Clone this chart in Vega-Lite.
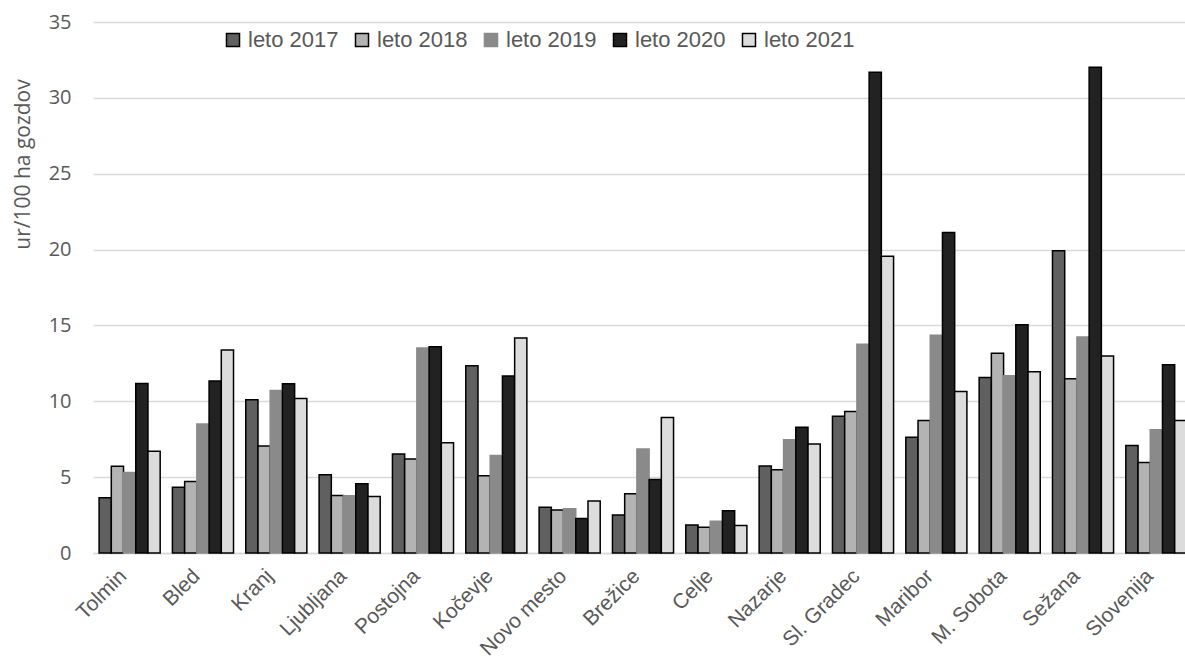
{
  "$schema": "https://vega.github.io/schema/vega-lite/v6.json",
  "width": 1100,
  "height": 531,
  "autosize": {"type": "none"},
  "padding": {"left": 93, "top": 22, "right": 0, "bottom": 113},
  "background": "white",
  "config": {"view": {"stroke": null}},
  "data": {"values": [
    {"region": "Tolmin", "year": "leto 2017", "v": 3.64},
    {"region": "Tolmin", "year": "leto 2018", "v": 5.71},
    {"region": "Tolmin", "year": "leto 2019", "v": 5.31},
    {"region": "Tolmin", "year": "leto 2020", "v": 11.18},
    {"region": "Tolmin", "year": "leto 2021", "v": 6.70},
    {"region": "Bled", "year": "leto 2017", "v": 4.34},
    {"region": "Bled", "year": "leto 2018", "v": 4.72},
    {"region": "Bled", "year": "leto 2019", "v": 8.51},
    {"region": "Bled", "year": "leto 2020", "v": 11.33},
    {"region": "Bled", "year": "leto 2021", "v": 13.38},
    {"region": "Kranj", "year": "leto 2017", "v": 10.10},
    {"region": "Kranj", "year": "leto 2018", "v": 7.06},
    {"region": "Kranj", "year": "leto 2019", "v": 10.71},
    {"region": "Kranj", "year": "leto 2020", "v": 11.16},
    {"region": "Kranj", "year": "leto 2021", "v": 10.19},
    {"region": "Ljubljana", "year": "leto 2017", "v": 5.16},
    {"region": "Ljubljana", "year": "leto 2018", "v": 3.79},
    {"region": "Ljubljana", "year": "leto 2019", "v": 3.77},
    {"region": "Ljubljana", "year": "leto 2020", "v": 4.56},
    {"region": "Ljubljana", "year": "leto 2021", "v": 3.72},
    {"region": "Postojna", "year": "leto 2017", "v": 6.53},
    {"region": "Postojna", "year": "leto 2018", "v": 6.20},
    {"region": "Postojna", "year": "leto 2019", "v": 13.51},
    {"region": "Postojna", "year": "leto 2020", "v": 13.60},
    {"region": "Postojna", "year": "leto 2021", "v": 7.27},
    {"region": "Kočevje", "year": "leto 2017", "v": 12.35},
    {"region": "Kočevje", "year": "leto 2018", "v": 5.09},
    {"region": "Kočevje", "year": "leto 2019", "v": 6.42},
    {"region": "Kočevje", "year": "leto 2020", "v": 11.66},
    {"region": "Kočevje", "year": "leto 2021", "v": 14.17},
    {"region": "Novo mesto", "year": "leto 2017", "v": 3.02},
    {"region": "Novo mesto", "year": "leto 2018", "v": 2.84},
    {"region": "Novo mesto", "year": "leto 2019", "v": 2.91},
    {"region": "Novo mesto", "year": "leto 2020", "v": 2.27},
    {"region": "Novo mesto", "year": "leto 2021", "v": 3.42},
    {"region": "Brežice", "year": "leto 2017", "v": 2.51},
    {"region": "Brežice", "year": "leto 2018", "v": 3.90},
    {"region": "Brežice", "year": "leto 2019", "v": 6.86},
    {"region": "Brežice", "year": "leto 2020", "v": 4.85},
    {"region": "Brežice", "year": "leto 2021", "v": 8.93},
    {"region": "Celje", "year": "leto 2017", "v": 1.85},
    {"region": "Celje", "year": "leto 2018", "v": 1.70},
    {"region": "Celje", "year": "leto 2019", "v": 2.10},
    {"region": "Celje", "year": "leto 2020", "v": 2.78},
    {"region": "Celje", "year": "leto 2021", "v": 1.81},
    {"region": "Nazarje", "year": "leto 2017", "v": 5.73},
    {"region": "Nazarje", "year": "leto 2018", "v": 5.49},
    {"region": "Nazarje", "year": "leto 2019", "v": 7.47},
    {"region": "Nazarje", "year": "leto 2020", "v": 8.29},
    {"region": "Nazarje", "year": "leto 2021", "v": 7.19},
    {"region": "Sl. Gradec", "year": "leto 2017", "v": 9.01},
    {"region": "Sl. Gradec", "year": "leto 2018", "v": 9.33},
    {"region": "Sl. Gradec", "year": "leto 2019", "v": 13.76},
    {"region": "Sl. Gradec", "year": "leto 2020", "v": 31.68},
    {"region": "Sl. Gradec", "year": "leto 2021", "v": 19.56},
    {"region": "Maribor", "year": "leto 2017", "v": 7.63},
    {"region": "Maribor", "year": "leto 2018", "v": 8.73},
    {"region": "Maribor", "year": "leto 2019", "v": 14.35},
    {"region": "Maribor", "year": "leto 2020", "v": 21.12},
    {"region": "Maribor", "year": "leto 2021", "v": 10.65},
    {"region": "M. Sobota", "year": "leto 2017", "v": 11.57},
    {"region": "M. Sobota", "year": "leto 2018", "v": 13.16},
    {"region": "M. Sobota", "year": "leto 2019", "v": 11.69},
    {"region": "M. Sobota", "year": "leto 2020", "v": 15.05},
    {"region": "M. Sobota", "year": "leto 2021", "v": 11.95},
    {"region": "Sežana", "year": "leto 2017", "v": 19.93},
    {"region": "Sežana", "year": "leto 2018", "v": 11.49},
    {"region": "Sežana", "year": "leto 2019", "v": 14.24},
    {"region": "Sežana", "year": "leto 2020", "v": 32.01},
    {"region": "Sežana", "year": "leto 2021", "v": 12.98},
    {"region": "Slovenija", "year": "leto 2017", "v": 7.08},
    {"region": "Slovenija", "year": "leto 2018", "v": 5.97},
    {"region": "Slovenija", "year": "leto 2019", "v": 8.13},
    {"region": "Slovenija", "year": "leto 2020", "v": 12.41},
    {"region": "Slovenija", "year": "leto 2021", "v": 8.73}
  ]},
  "mark": {"type": "bar", "strokeWidth": 1.5},
  "encoding": {
    "x": {
      "field": "region", "type": "nominal", "sort": null,
      "scale": {"paddingInner": 0.167, "paddingOuter": 0.083},
      "axis": {
        "title": null, "labelAngle": -45, "labelFont": "Liberation Sans", "labelFontSize": 21,
        "labelColor": "#595959", "ticks": false, "domainColor": "#d9d9d9", "domainWidth": 1.5,
        "labelPadding": 12, "labelOffset": -14, "grid": false
      }
    },
    "xOffset": {"field": "year", "type": "nominal", "scale": {"paddingInner": 0, "paddingOuter": 0}},
    "y": {
      "field": "v", "type": "quantitative",
      "scale": {"domain": [0, 35], "nice": false},
      "axis": {
        "title": "ur/100 ha gozdov", "values": [0, 5, 10, 15, 20, 25, 30, 35],
        "labelFont": "Open Sans", "labelFontSize": 20, "labelColor": "#595959", "labelPadding": 22,
        "titleFont": "Open Sans", "titleFontSize": 21, "titleColor": "#595959", "titleFontWeight": "normal",
        "titleX": -70, "titleY": 142, "titleAngle": -90, "titleAlign": "center", "titleBaseline": "middle",
        "domain": false, "ticks": false, "gridColor": "#d9d9d9", "gridWidth": 1.5
      }
    },
    "color": {
      "field": "year", "type": "nominal",
      "scale": {"domain": ["leto 2017", "leto 2018", "leto 2019", "leto 2020", "leto 2021"],
                "range": ["#606060", "#b3b3b3", "#8a8a8a", "#222222", "#dcdcdc"]},
      "legend": {
        "title": null, "orient": "none", "direction": "horizontal", "legendX": 129, "legendY": 7,
        "symbolType": "square", "symbolSize": 170, "symbolStrokeWidth": 1.5,
        "labelFont": "Liberation Sans", "labelFontSize": 22, "labelColor": "#595959",
        "labelOffset": 4, "columnPadding": 12
      }
    },
    "stroke": {
      "field": "year", "type": "nominal",
      "scale": {"domain": ["leto 2017", "leto 2018", "leto 2019", "leto 2020", "leto 2021"],
                "range": ["#000000", "#000000", "#8a8a8a", "#000000", "#000000"]}
    }
  }
}
